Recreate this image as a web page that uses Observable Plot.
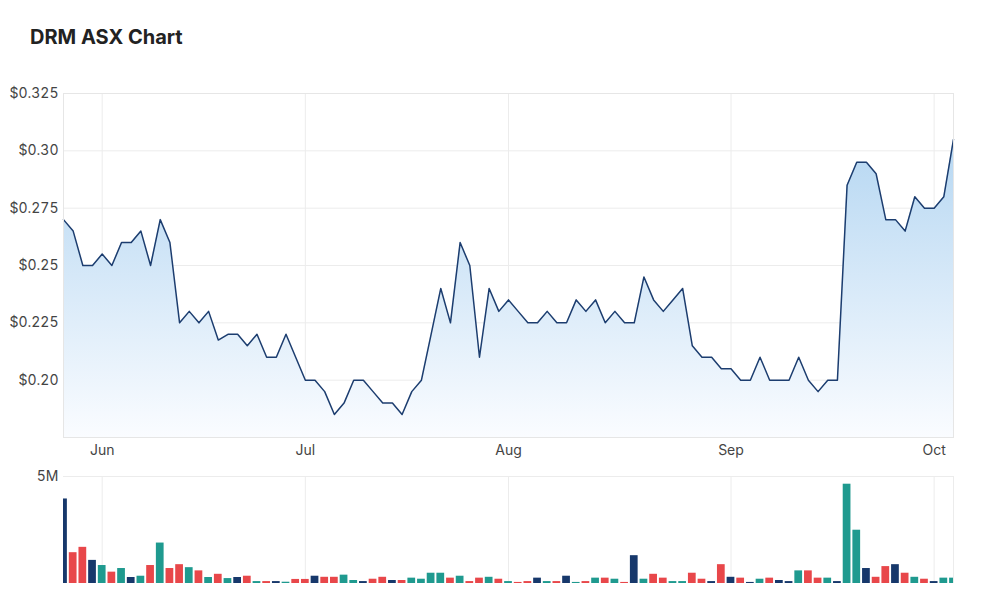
<!DOCTYPE html>
<html><head><meta charset="utf-8">
<script src="https://cdn.jsdelivr.net/npm/d3@7"></script>
<script src="https://cdn.jsdelivr.net/npm/@observablehq/plot@0.6"></script>
<style>
body{margin:0;background:#fff;font-family:Inter,"Open Sans",sans-serif;}
#title{height:70px;box-sizing:border-box;padding:25px 0 0 30px;font-size:20px;font-weight:700;color:#222;line-height:24px;}
#chart svg{display:block}
</style></head><body>
<div id="title">DRM ASX Chart</div>
<div id="chart"></div>
<script>
const dates = [
"2022-05-26","2022-05-27","2022-05-30","2022-05-31",
"2022-06-01","2022-06-02","2022-06-03","2022-06-06","2022-06-07","2022-06-08","2022-06-09","2022-06-10",
"2022-06-14","2022-06-15","2022-06-16","2022-06-17","2022-06-20","2022-06-21","2022-06-22","2022-06-23","2022-06-24",
"2022-06-27","2022-06-28","2022-06-29","2022-06-30",
"2022-07-01","2022-07-04","2022-07-05","2022-07-06","2022-07-07","2022-07-08","2022-07-11","2022-07-12","2022-07-13",
"2022-07-14","2022-07-15","2022-07-18","2022-07-19","2022-07-20","2022-07-21","2022-07-22","2022-07-25","2022-07-26",
"2022-07-27","2022-07-28","2022-07-29",
"2022-08-01","2022-08-02","2022-08-03","2022-08-04","2022-08-05","2022-08-08","2022-08-09","2022-08-10","2022-08-11",
"2022-08-12","2022-08-15","2022-08-16","2022-08-17","2022-08-18","2022-08-19","2022-08-22","2022-08-23","2022-08-24",
"2022-08-25","2022-08-26","2022-08-29","2022-08-30","2022-08-31",
"2022-09-01","2022-09-02","2022-09-05","2022-09-06","2022-09-07","2022-09-08","2022-09-09","2022-09-12","2022-09-13",
"2022-09-14","2022-09-15","2022-09-16","2022-09-19","2022-09-20","2022-09-21","2022-09-23","2022-09-26","2022-09-27",
"2022-09-28","2022-09-29","2022-09-30",
"2022-10-03","2022-10-04","2022-10-05"];
const prices = [
0.270,0.265,0.25,0.25,0.255,0.25,0.26,0.26,0.265,0.25,
0.27,0.26,0.225,0.23,0.225,0.23,0.2175,0.22,0.22,0.215,
0.22,0.21,0.21,0.22,0.21,0.20,0.20,0.195,0.185,0.19,
0.20,0.20,0.195,0.19,0.19,0.185,0.195,0.20,0.22,0.24,
0.225,0.26,0.25,0.21,0.24,0.23,0.235,0.23,0.225,0.225,
0.23,0.225,0.225,0.235,0.23,0.235,0.225,0.23,0.225,0.225,
0.245,0.235,0.23,0.235,0.24,0.215,0.21,0.21,0.205,0.205,
0.20,0.20,0.21,0.20,0.20,0.20,0.21,0.20,0.195,0.20,
0.20,0.285,0.295,0.295,0.29,0.27,0.27,0.265,0.28,0.275,
0.275,0.28,0.305];
// volume in millions of shares
const volumes = [
3.95,1.44,1.69,1.08,0.84,0.53,0.70,0.28,0.34,0.84,
1.89,0.70,0.88,0.74,0.59,0.28,0.43,0.23,0.28,0.34,
0.09,0.09,0.09,0.06,0.19,0.19,0.34,0.29,0.29,0.39,
0.14,0.09,0.20,0.29,0.14,0.14,0.25,0.20,0.48,0.48,
0.25,0.34,0.09,0.25,0.29,0.20,0.09,0.05,0.09,0.25,
0.09,0.09,0.34,0.05,0.09,0.25,0.25,0.20,0.05,1.30,
0.20,0.43,0.25,0.09,0.09,0.48,0.20,0.09,0.88,0.29,
0.25,0.05,0.20,0.25,0.14,0.09,0.59,0.59,0.25,0.25,
0.09,4.64,2.49,0.70,0.29,0.79,0.88,0.48,0.29,0.20,
0.09,0.25,0.25];
const priceTicks = [0.20,0.225,0.25,0.275,0.30,0.325];
const priceTickLabels = ["$0.20","$0.225","$0.25","$0.275","$0.30","$0.325"];
const priceDomain = [0.175,0.325];
const volumeTicks = [5];
const volumeTickLabels = ["5M"];
const volumeDomain = [0,5];

const upColor = "#1f9a8f", downColor = "#e8474a", flatColor = "#17386b";
const lineColor = "#1c3d6f", gridColor = "#ececec";

const rows = prices.map((p,i)=>({
  i, date: new Date(dates[i]), p, v: volumes[i],
  dir: i === 0 ? 0 : Math.sign(Math.round((p - prices[i-1]) * 1e4))
}));
const monthStarts = rows.filter((d,i)=> i>0 && d.date.getUTCMonth() !== rows[i-1].date.getUTCMonth()).map(d=>d.i);
const monthFmt = d3.utcFormat("%b");

const W = 1000, ML = 63, MR = 47;
const xDomain = [0, rows.length-1];
const style = {fontFamily:"Inter, 'Open Sans', sans-serif", fontSize:"14px", color:"#444", background:"transparent"};

const gradientDefs = () => {
  const defs = d3.create("svg:defs");
  const g = defs.append("linearGradient").attr("id","areaGrad")
    .attr("x1",0).attr("y1",0).attr("x2",0).attr("y2",1);
  g.append("stop").attr("offset","0%").attr("stop-color","#b6d7f2");
  g.append("stop").attr("offset","100%").attr("stop-color","#fafcff");
  return defs.node();
};

const pricePlot = Plot.plot({
  width: W, height: 397, marginLeft: ML, marginRight: MR, marginTop: 23, marginBottom: 30,
  style,
  x: {type:"linear", domain: xDomain, ticks: monthStarts, tickFormat: i => monthFmt(rows[i].date), tickSize: 0, tickPadding: 8, label: null},
  y: {domain: priceDomain, ticks: priceTicks, tickFormat: d => priceTickLabels[priceTicks.indexOf(d)], tickSize: 0, tickPadding: 5, label: null},
  marks: [
    gradientDefs,
    Plot.ruleX(monthStarts, {stroke: gridColor}),
    Plot.ruleY(priceTicks, {stroke: gridColor}),
    Plot.areaY(rows, {x: "i", y1: priceDomain[0], y2: "p", fill: "url(#areaGrad)"}),
    Plot.lineY(rows, {x: "i", y: "p", stroke: lineColor, strokeWidth: 1.5}),
    Plot.frame({stroke: "#e6e6e6"})
  ]
});

const barOpts = {x1: d => d.i - 0.4, x2: d => d.i + 0.4, y: "v", clip: true};
const volumePlot = Plot.plot({
  width: W, height: 121, marginLeft: ML, marginRight: MR, marginTop: 9, marginBottom: 5,
  style,
  x: {type:"linear", domain: xDomain, axis: null},
  y: {domain: volumeDomain, ticks: volumeTicks, tickFormat: d => volumeTickLabels[volumeTicks.indexOf(d)], tickSize: 0, tickPadding: 5, label: null},
  marks: [
    Plot.ruleX(monthStarts, {stroke: gridColor}),
    Plot.ruleY(volumeTicks, {stroke: gridColor}),
    Plot.ruleX([xDomain[1]], {stroke: gridColor}),
    Plot.rectY(rows.filter(d => d.dir > 0), {...barOpts, fill: upColor}),
    Plot.rectY(rows.filter(d => d.dir < 0), {...barOpts, fill: downColor}),
    Plot.rectY(rows.filter(d => d.dir === 0), {...barOpts, fill: flatColor})
  ]
});

document.getElementById("chart").append(pricePlot, volumePlot);
</script>
</body></html>
